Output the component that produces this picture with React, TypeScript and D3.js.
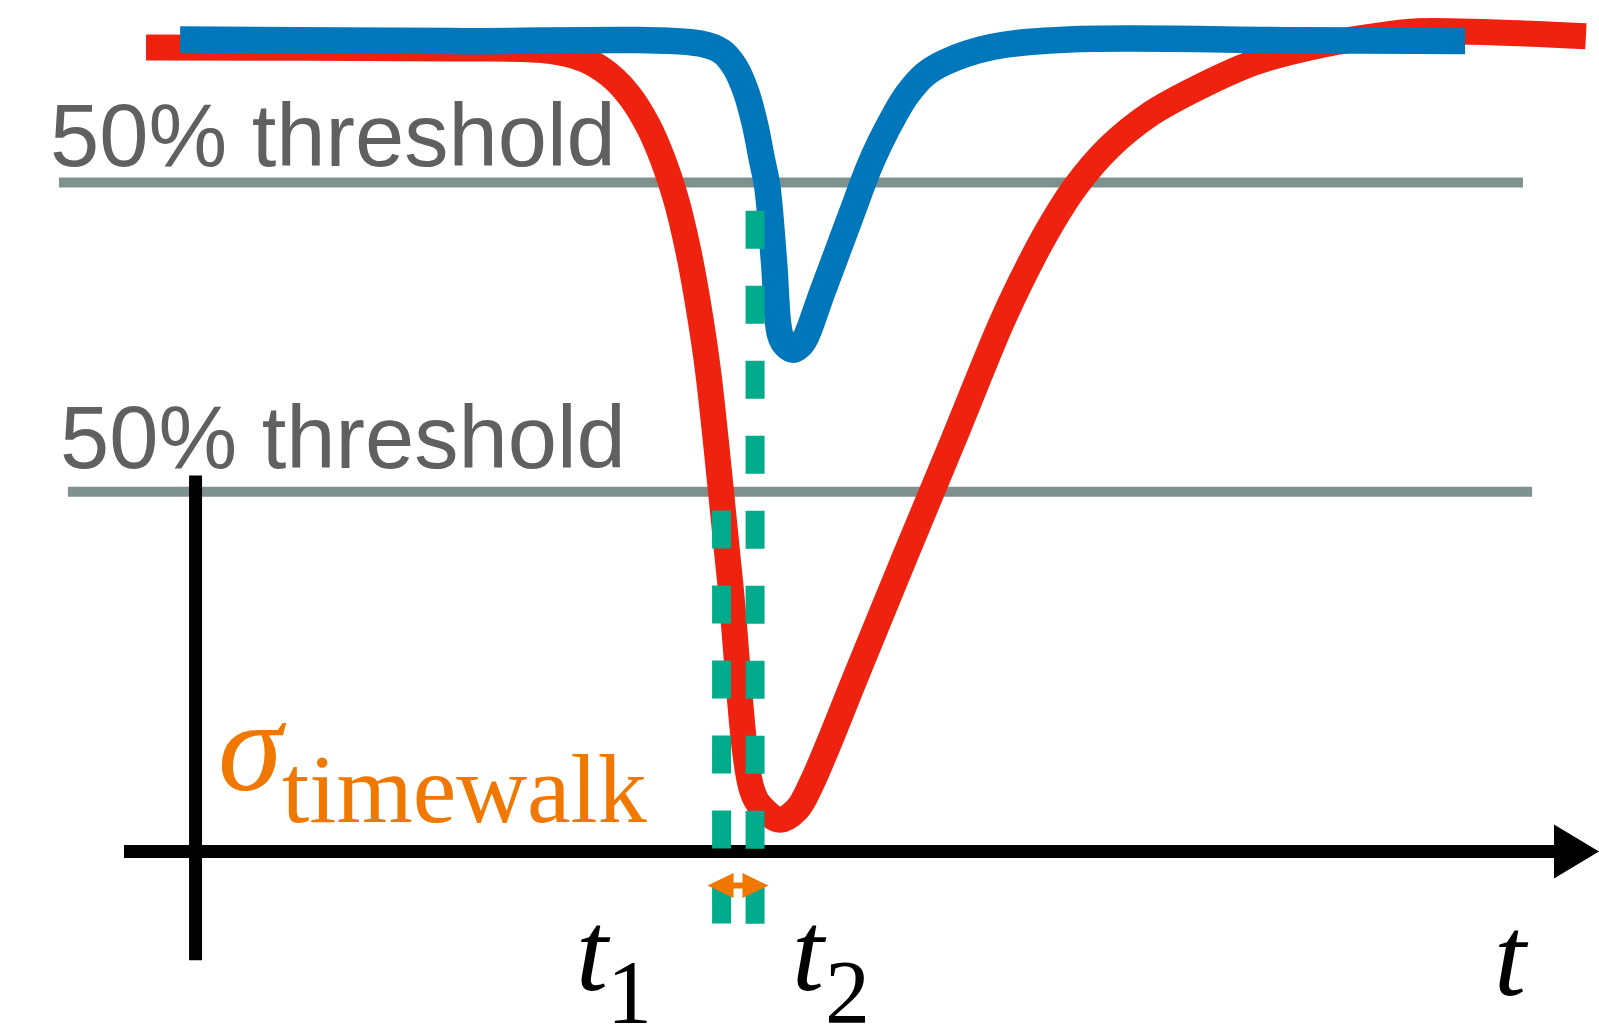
import React from "react";
import * as d3 from "d3";

// ---- data (time in arbitrary ns units, amplitude normalised: 0 = axis, 1 = baseline) ----
const redTime = [0.77, 11.39, 14.88, 16.11, 16.98, 17.68, 18.31, 18.83, 19.29, 19.71, 20.06, 20.41, 21.17, 21.94, 22.29, 22.92, 23.52, 24.04, 25.68, 27.32, 28.97, 30.61, 31.31, 32.18, 33.23, 34.45, 35.85, 37.6, 39.52, 41.79, 43.89, 45.07, 51.08];
const redAmp = [0.99, 0.989, 0.986, 0.975, 0.956, 0.93, 0.894, 0.852, 0.803, 0.741, 0.674, 0.591, 0.335, 0.076, 0.054, 0.039, 0.052, 0.085, 0.225, 0.366, 0.506, 0.647, 0.7, 0.759, 0.818, 0.868, 0.908, 0.942, 0.972, 0.993, 1.005, 1.01, 1.004];

const blueTime = [1.96, 11.39, 20.13, 20.89, 21.35, 21.73, 22.05, 22.29, 22.47, 22.71, 22.92, 23.13, 23.38, 23.62, 23.83, 24.37, 24.91, 25.45, 26.0, 26.42, 26.94, 27.36, 27.99, 28.69, 30.36, 33.02, 41.09, 46.86];
const blueAmp = [1.0, 0.998, 0.995, 0.985, 0.966, 0.936, 0.895, 0.852, 0.821, 0.727, 0.637, 0.623, 0.618, 0.623, 0.634, 0.686, 0.737, 0.788, 0.84, 0.873, 0.908, 0.932, 0.957, 0.972, 0.991, 1.0, 0.999, 0.998];

const thresholdLevels = [0.824, 0.443];
const thresholdStart = [-2.27, -1.96];
const thresholdEnd = [48.88, 49.2];
const thresholdLabels = ["50% threshold", "50% threshold"];

const crossingTimes = [20.88, 22.05]; // t1, t2
const crossingTop = [0.42, 0.789];
const markerBottom = -0.089;
const arrowSpan = [20.39, 22.52];
const arrowLevel = -0.042;

const axisTimeRange = [0, 50];
const axisAmpRange = [-0.134, 0.463];
const yAxisTime = 2.5;

const W = 1599;
const H = 1027;

const x = d3.scaleLinear().domain([0, 50]).range([124, 1555]);
const y = d3.scaleLinear().domain([0, 1]).range([851.5, 39.5]);

const line = d3
  .line<[number, number]>()
  .x((d) => x(d[0]))
  .y((d) => y(d[1]))
  .curve(d3.curveCatmullRom.alpha(0.5));

const redPts: [number, number][] = redTime.map((t, i) => [t, redAmp[i]]);
const bluePts: [number, number][] = blueTime.map((t, i) => [t, blueAmp[i]]);

const RED = "#EE220F";
const BLUE = "#0077BB";
const TEAL = "#00AB8C";
const ORANGE = "#F07700";
const GREY = "#7F918F";
const TEXTGREY = "#606060";

export default function App() {
  const ay = y(arrowLevel);
  const ax0 = x(arrowSpan[0]);
  const ax1 = x(arrowSpan[1]);
  const headL = 26;
  const headH = 12.5;
  const shaft = 3;
  const arrowPath = [
    `M${ax0},${ay}`,
    `L${ax0 + headL},${ay - headH}`,
    `L${ax0 + headL},${ay - shaft}`,
    `L${ax1 - headL},${ay - shaft}`,
    `L${ax1 - headL},${ay - headH}`,
    `L${ax1},${ay}`,
    `L${ax1 - headL},${ay + headH}`,
    `L${ax1 - headL},${ay + shaft}`,
    `L${ax0 + headL},${ay + shaft}`,
    `L${ax0 + headL},${ay + headH}`,
    "Z",
  ].join(" ");

  const axEnd = x(axisTimeRange[1]);
  const axY = y(0);

  return (
    <svg
      width={W}
      height={H}
      viewBox={`0 0 ${W} ${H}`}
      style={{ position: "absolute", left: 0, top: 0, background: "#fff" }}
    >
      {/* threshold lines */}
      {thresholdLevels.map((lv, i) => (
        <line
          key={"th" + i}
          x1={x(thresholdStart[i])}
          x2={x(thresholdEnd[i])}
          y1={y(lv)}
          y2={y(lv)}
          stroke={GREY}
          strokeWidth={10}
        />
      ))}
      <text x={50} y={166} fontFamily="Liberation Sans, Arial, sans-serif" fontSize={88.5} fill={TEXTGREY}>
        {thresholdLabels[0]}
      </text>
      <text x={60} y={468} fontFamily="Liberation Sans, Arial, sans-serif" fontSize={88.5} fill={TEXTGREY}>
        {thresholdLabels[1]}
      </text>

      {/* axes */}
      <line
        x1={x(yAxisTime)}
        x2={x(yAxisTime)}
        y1={y(axisAmpRange[1])}
        y2={y(axisAmpRange[0])}
        stroke="#000"
        strokeWidth={13}
      />
      <line x1={x(axisTimeRange[0])} x2={axEnd} y1={axY} y2={axY} stroke="#000" strokeWidth={13} />
      <path d={`M${axEnd - 1},${axY - 27} L${W},${axY} L${axEnd - 1},${axY + 27} Z`} fill="#000" />

      {/* pulses */}
      <path d={line(redPts) || ""} fill="none" stroke={RED} strokeWidth={26} strokeLinejoin="round" />
      <path d={line(bluePts) || ""} fill="none" stroke={BLUE} strokeWidth={26.5} strokeLinejoin="round" />

      {/* crossing markers */}
      {crossingTimes.map((t, i) => (
        <line
          key={"cr" + i}
          x1={x(t)}
          x2={x(t)}
          y1={y(crossingTop[i])}
          y2={y(markerBottom)}
          stroke={TEAL}
          strokeWidth={19}
          strokeDasharray="38 37"
        />
      ))}

      {/* sigma timewalk arrow */}
      <path d={arrowPath} fill={ORANGE} />

      {/* labels */}
      <text x={218} y={790} fontFamily="Liberation Serif, Times New Roman, serif" fontStyle="italic" fontSize={130} fill={ORANGE}>
        σ
      </text>
      <text x={282} y={822} fontFamily="Liberation Serif, Times New Roman, serif" fontSize={98} fill={ORANGE}>
        timewalk
      </text>

      <g fontFamily="Liberation Serif, Times New Roman, serif" fill="#000">
        <text x={576} y={990} fontStyle="italic" fontSize={115}>t</text>
        <text x={607} y={1023} fontSize={90}>1</text>
        <text x={792} y={990} fontStyle="italic" fontSize={115}>t</text>
        <text x={825} y={1023} fontSize={90}>2</text>
        <text x={1494} y={995} fontStyle="italic" fontSize={115}>t</text>
      </g>
    </svg>
  );
}
